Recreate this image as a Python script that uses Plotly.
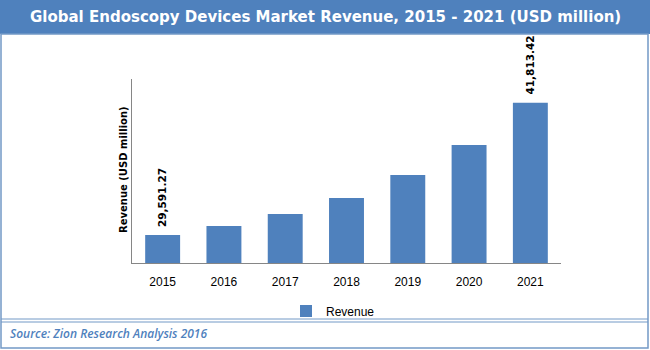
import plotly.graph_objects as go

years = ["2015", "2016", "2017", "2018", "2019", "2020", "2021"]
revenue = [29591.27, 30418, 31527, 33005, 35130, 37902, 41813.42]
label_years = ["2015", "2021"]
label_texts = ["29,591.27", "41,813.42"]

W, H = 650, 350
BLUE = "#4F81BD"

def px(x):
    return x / W

def py(y):
    return 1 - y / H

fig = go.Figure()
fig.add_trace(go.Bar(x=years, y=revenue, name="Revenue", marker=dict(color=BLUE, line=dict(width=0))))

annotations = []
for yr, txt in zip(label_years, label_texts):
    i = years.index(yr)
    annotations.append(dict(x=i, y=revenue[i], xref="x", yref="y", text=txt, showarrow=False,
                            textangle=-90, yanchor="bottom", xanchor="center", yshift=6,
                            font=dict(family="DejaVu Sans", size=10.5, color="#000000", weight="bold")))

annotations.append(dict(x=0.5, y=py(17), xref="paper", yref="paper",
                        text="<b>Global Endoscopy Devices Market Revenue, 2015 - 2021 (USD million)</b>",
                        showarrow=False, xanchor="center", yanchor="middle",
                        font=dict(family="DejaVu Sans", size=15, color="#FFFFFF")))
annotations.append(dict(x=px(123), y=py(170), xref="paper", yref="paper",
                        text="<b>Revenue (USD million)</b>", textangle=-90,
                        showarrow=False, xanchor="center", yanchor="middle",
                        font=dict(family="DejaVu Sans", size=10, color="#000000")))
annotations.append(dict(x=px(8), y=py(333), xref="paper", yref="paper",
                        text="<i>Source: Zion Research Analysis 2016</i>",
                        showarrow=False, xanchor="left", yanchor="middle",
                        font=dict(family="Open Sans", size=12, color=BLUE, weight=600)))

shapes = [
    dict(type="rect", xref="paper", yref="paper", x0=0, x1=1, y0=py(34), y1=1,
         fillcolor=BLUE, line=dict(width=0), layer="below"),
    dict(type="rect", xref="paper", yref="paper", x0=px(1), x1=px(648), y0=py(348), y1=py(34),
         fillcolor="rgba(0,0,0,0)", line=dict(color="#7399C6", width=1.5)),
    dict(type="line", xref="paper", yref="paper", x0=px(1), x1=px(648), y0=py(319), y1=py(319),
         line=dict(color="#7399C6", width=1)),
    dict(type="line", xref="paper", yref="paper", x0=px(1), x1=px(648), y0=py(322), y1=py(322),
         line=dict(color="#7399C6", width=1)),
]

fig.update_layout(
    width=W, height=H,
    margin=dict(l=0, r=0, t=0, b=0),
    paper_bgcolor="#FFFFFF", plot_bgcolor="#FFFFFF",
    bargap=0.43,
    showlegend=True,
    legend=dict(orientation="h", x=px(333), xanchor="center", y=py(311), yanchor="middle",
                font=dict(family="Liberation Sans", size=12, color="#000000"),
                itemwidth=30, bgcolor="rgba(0,0,0,0)"),
    xaxis=dict(domain=[px(132), px(561)], type="category", range=[-0.5, len(years) - 0.5],
               showline=True, linecolor="#868686",
               linewidth=1, ticks="", showgrid=False, zeroline=False,
               tickfont=dict(family="Liberation Sans", size=12, color="#000000"), ticklabelstandoff=8),
    yaxis=dict(domain=[py(263), py(79)], range=[27000, 44000], showline=True, linecolor="#868686",
               linewidth=1, showticklabels=False, ticks="", showgrid=False, zeroline=False),
    annotations=annotations,
    shapes=shapes,
)

fig.write_html("out.html")
